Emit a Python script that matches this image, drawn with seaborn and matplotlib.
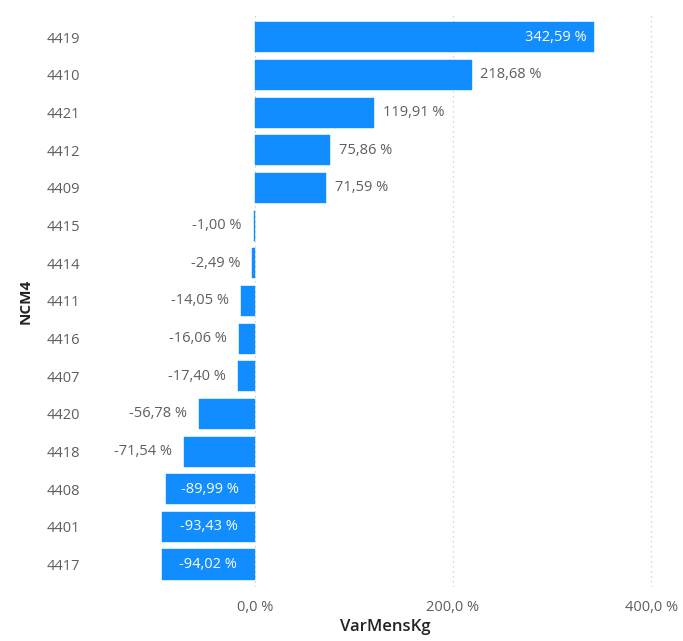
import matplotlib
matplotlib.use("Agg")
import matplotlib.pyplot as plt
import seaborn as sns
import pandas as pd

# ======= DATA =======
ncm4 = ["4419", "4410", "4421", "4412", "4409", "4415", "4414", "4411",
        "4416", "4407", "4420", "4418", "4408", "4401", "4417"]
var_mens_kg = [342.59, 218.68, 119.91, 75.86, 71.59, -1.00, -2.49, -14.05,
               -16.06, -17.40, -56.78, -71.54, -89.99, -93.43, -94.02]
x_ticks = [0, 200, 400]
x_tick_labels = ["0,0 %", "200,0 %", "400,0 %"]
# labels drawn inside the bar (white) instead of outside
inside = [True, False, False, False, False, False, False, False,
          False, False, False, False, True, True, True]
# ====================

df = pd.DataFrame({"NCM4": ncm4, "VarMensKg": var_mens_kg})

sns.set_style("white")
plt.rcParams["font.family"] = ["Open Sans", "DejaVu Sans"]

bar_color = "#118DFF"
text_gray = "#605E5C"

fig = plt.figure(figsize=(6.83, 6.41), dpi=100)
ax = fig.add_axes([0.146, 0.084, 0.835, 0.893])

sns.barplot(data=df, x="VarMensKg", y="NCM4", orient="h", color=bar_color,
            saturation=1, width=0.8, ax=ax, zorder=2,
            edgecolor=bar_color, linewidth=0.3)

ax.set_xlim(-156.5, 419)
ax.set_ylim(14.6, -0.6)

# dotted grid lines
for t in x_ticks:
    ax.axvline(t, color="#C8C8C8", linestyle=(0, (1, 3)), linewidth=0.9, zorder=1)

ax.set_xticks(x_ticks)
ax.set_xticklabels(x_tick_labels)
ax.tick_params(axis="both", length=0, labelsize=10.5, labelcolor=text_gray)
ax.tick_params(axis="y", pad=14)
ax.tick_params(axis="x", pad=9)

for s in ax.spines.values():
    s.set_visible(False)

ax.set_xlabel("VarMensKg", fontsize=12, color="#252423", fontweight="semibold", labelpad=3)
ax.set_ylabel("NCM4", fontsize=11, color="#252423", fontweight="bold")
ax.yaxis.set_label_coords(-0.118, 0.5)

# data labels
for i, (v, ins) in enumerate(zip(var_mens_kg, inside)):
    txt = f"{v:.2f}".replace(".", ",") + " %"
    if ins:
        if v >= 0:
            ax.text(v - 8, i, txt, ha="right", va="center", color="white", fontsize=10.5, zorder=3)
        else:
            ax.text(v / 2, i, txt, ha="center", va="center", color="white", fontsize=10.5, zorder=3)
    else:
        if v >= 0:
            ax.text(v + 9, i, txt, ha="left", va="center", color=text_gray, fontsize=10.5, zorder=3)
        else:
            ax.text(v - 12, i, txt, ha="right", va="center", color=text_gray, fontsize=10.5, zorder=3)

plt.savefig("out.png", dpi=100)
